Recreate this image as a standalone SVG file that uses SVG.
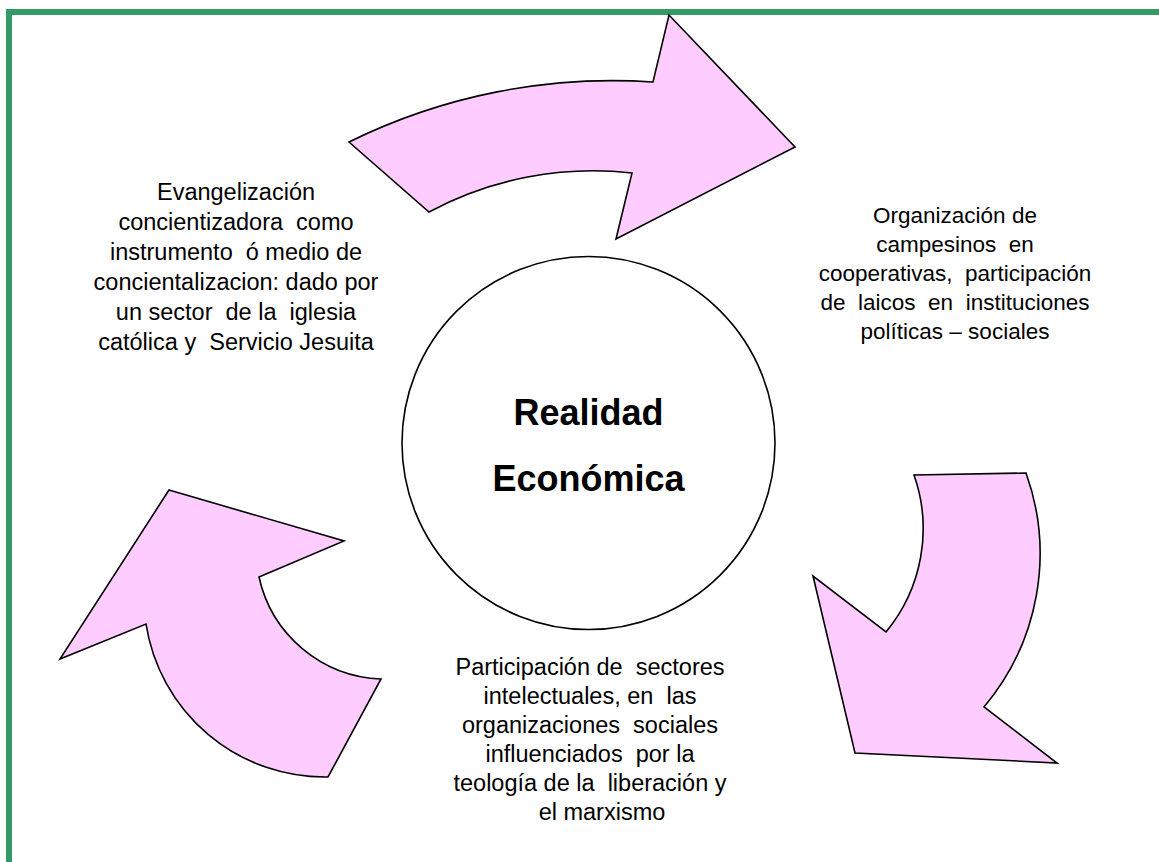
<svg xmlns="http://www.w3.org/2000/svg" width="1159" height="862" viewBox="0 0 1159 862">
<style>
.arrow{fill:#FFCCFF;stroke:#000;stroke-width:1.6;stroke-linejoin:miter}
.lbl{font-family:"Liberation Sans",Arial,sans-serif;font-size:23.5px;fill:#000;text-anchor:middle}
.sm{font-size:22.5px}
.title{font-family:"Liberation Sans",Arial,sans-serif;font-size:36px;font-weight:bold;fill:#000;text-anchor:middle}
</style>
<rect x="0" y="0" width="1159" height="862" fill="#fff"/>
<g id="border">
<rect x="6" y="9" width="1153" height="6" fill="#339966"/>
<rect x="6" y="9" width="6" height="853" fill="#339966"/>
</g>
<g id="connectors">
<path id="arrow-top" class="arrow" d="M349,142 A595,595 0 0 1 653,82 L669,15 L795,147 L616,239 L632,173 A348,348 0 0 0 429,212 Z"/>
<path id="arrow-right" class="arrow" d="M914,475 L1026,473 A238,238 0 0 1 984,707 L1057,763 L855,753 L813,576 L886,632 A162,162 0 0 0 914,475 Z"/>
<path id="arrow-left" class="arrow" d="M169,490 L344,541 L259,577 A130,130 0 0 0 381,679 L328,777 A181,181 0 0 1 146,624 L60,659 Z"/>
</g>
<g id="center">
<circle cx="588.5" cy="443" r="186.5" fill="#fff" stroke="#000" stroke-width="1.6"/>
<text class="title" x="588.5" y="425">Realidad</text>
<text class="title" x="588.5" y="491">Económica</text>
</g>
<g id="node-left">
<text class="lbl" x="236" y="200">Evangelización</text>
<text class="lbl" x="236" y="230" xml:space="preserve">concientizadora  como</text>
<text class="lbl" x="236" y="260" xml:space="preserve">instrumento  ó medio de</text>
<text class="lbl" x="236" y="290">concientalizacion: dado por</text>
<text class="lbl" x="236" y="320" xml:space="preserve">un sector  de la  iglesia</text>
<text class="lbl" x="236" y="350" xml:space="preserve">católica y  Servicio Jesuita</text>
</g>
<g id="node-right">
<text class="lbl sm" x="955" y="223">Organización de</text>
<text class="lbl sm" x="955" y="252" xml:space="preserve">campesinos  en</text>
<text class="lbl sm" x="955" y="281" xml:space="preserve">cooperativas,  participación</text>
<text class="lbl sm" x="955" y="310" xml:space="preserve">de  laicos  en  instituciones</text>
<text class="lbl sm" x="955" y="339">políticas – sociales</text>
</g>
<g id="node-bottom">
<text class="lbl" x="590" y="675" xml:space="preserve">Participación de  sectores</text>
<text class="lbl" x="590" y="704" xml:space="preserve">intelectuales, en  las</text>
<text class="lbl" x="590" y="733" xml:space="preserve">organizaciones  sociales</text>
<text class="lbl" x="590" y="762" xml:space="preserve">influenciados  por la</text>
<text class="lbl" x="590" y="791" xml:space="preserve">teología de la  liberación y</text>
<text class="lbl" x="602" y="820">el marxismo</text>
</g>
</svg>
